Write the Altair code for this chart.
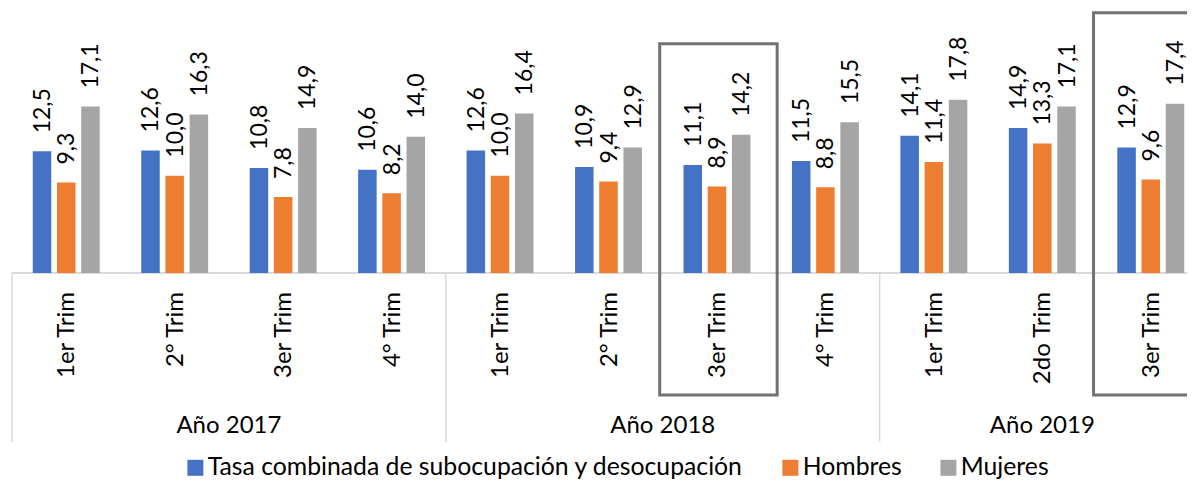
import altair as alt
import pandas as pd

# ---- data ----
years = ["Año 2017", "Año 2018", "Año 2019"]
trims_per_year = [
    ["1er Trim", "2° Trim", "3er Trim", "4° Trim"],
    ["1er Trim", "2° Trim", "3er Trim", "4° Trim"],
    ["1er Trim", "2do Trim", "3er Trim"],
]
series = ["Tasa combinada de subocupación y desocupación", "Hombres", "Mujeres"]
tasa = [12.5, 12.6, 10.8, 10.6, 12.6, 10.9, 11.1, 11.5, 14.1, 14.9, 12.9]
hombres = [9.3, 10.0, 7.8, 8.2, 10.0, 9.4, 8.9, 8.8, 11.4, 13.3, 9.6]
mujeres = [17.1, 16.3, 14.9, 14.0, 16.4, 12.9, 14.2, 15.5, 17.8, 17.1, 17.4]
highlighted = [6, 10]  # 3er Trim 2018, 3er Trim 2019
colors = ["#4472C4", "#ED7D31", "#A5A5A5"]

# ---- tables ----
keys, trim_labels, year_of = [], [], []
for y, trims in zip(years, trims_per_year):
    for t in trims:
        keys.append(f"{y} | {t}")
        trim_labels.append(t)
        year_of.append(y)

rows = []
for i, k in enumerate(keys):
    for s, vals in zip(series, [tasa, hombres, mujeres]):
        rows.append({"key": k, "series": s, "value": vals[i]})
df = pd.DataFrame(rows)
df["label"] = df["value"].map(lambda v: f"{v:.1f}".replace(".", ","))

cats = pd.DataFrame({"key": keys, "trim": trim_labels})

# year label anchors
year_even, year_odd, year_first = [], [], []
start = 0
for y, trims in zip(years, trims_per_year):
    n = len(trims)
    year_first.append({"key": keys[start]})
    mid = keys[start + n // 2]
    (year_even if n % 2 == 0 else year_odd).append({"key": mid, "year": y})
    start += n
year_even = pd.DataFrame(year_even)
year_odd = pd.DataFrame(year_odd)
year_first = pd.DataFrame(year_first)

boxes = pd.DataFrame({
    "key": [keys[i] for i in highlighted],
    "maxv": [max(tasa[i], hombres[i], mujeres[i]) for i in highlighted],
})

W, H = 1175, 253
FONT = "Lato"
x_scale = alt.Scale(domain=keys, range=[0, 1193], paddingInner=0, paddingOuter=0)
y_scale = alt.Scale(domain=[0, 26])
off_scale = alt.Scale(domain=series, paddingInner=0.235, paddingOuter=0.858)

X = alt.X("key:N", scale=x_scale, axis=None)

bars = alt.Chart(df).mark_bar().encode(
    x=X,
    xOffset=alt.XOffset("series:N", scale=off_scale),
    y=alt.Y("value:Q", scale=y_scale, axis=None),
    color=alt.Color(
        "series:N",
        scale=alt.Scale(domain=series, range=colors),
        legend=alt.Legend(
            orient="none", legendX=171, legendY=435, direction="horizontal",
            title=None, symbolType="square", symbolSize=256, symbolStrokeWidth=0,
            labelFont=FONT, labelFontSize=24.75, labelColor="#000000", labelLimit=1000,
            columnPadding=34, labelOffset=0, padding=0,
        ),
    ),
)

values = alt.Chart(df).mark_text(
    angle=270, align="left", baseline="middle", dx=18, dy=1,
    font=FONT, fontSize=23, color="#000000",
).encode(
    x=X,
    xOffset=alt.XOffset("series:N", scale=off_scale),
    y=alt.Y("value:Q", scale=y_scale, axis=None),
    text="label:N",
)

cat_labels = alt.Chart(cats).mark_text(
    angle=270, align="right", baseline="middle", dy=1,
    font=FONT, fontSize=24, color="#000000",
).encode(x=X, y=alt.value(272), text="trim:N")

year_lab_even = alt.Chart(year_even).mark_text(
    baseline="middle", align="center", font=FONT, fontSize=24, color="#000000",
).encode(x=alt.X("key:N", scale=x_scale, axis=None, bandPosition=0), y=alt.value(406), text="year:N")

year_lab_odd = alt.Chart(year_odd).mark_text(
    baseline="middle", align="center", font=FONT, fontSize=24, color="#000000",
).encode(x=alt.X("key:N", scale=x_scale, axis=None, bandPosition=0.5), y=alt.value(406), text="year:N")

separators = alt.Chart(year_first).mark_rule(color="#D9D9D9", strokeWidth=1.5).encode(
    x=alt.X("key:N", scale=x_scale, axis=None, bandPosition=0),
    y=alt.value(H), y2=alt.value(422),
)

baseline = alt.Chart(cats).mark_rule(color="#D9D9D9", strokeWidth=1.5).encode(
    x=alt.value(0), x2=alt.value(W + 30), y=alt.value(H)
)

box = alt.Chart(boxes).mark_rect(
    fillOpacity=0, stroke="#767171", strokeWidth=3, xOffset=-3, x2Offset=6, yOffset=-91,
).encode(
    x=alt.X("key:N", scale=x_scale, axis=None, bandPosition=0),
    x2=alt.X2("key:N", bandPosition=1),
    y=alt.Y("maxv:Q", scale=y_scale, axis=None),
    y2=alt.value(375),
)

chart = alt.layer(
    baseline, separators, bars, values, cat_labels, year_lab_even, year_lab_odd, box
).properties(
    width=W, height=H,
    autosize=alt.AutoSizeParams(type="none"),
    padding={"left": 4, "top": 12, "right": 0, "bottom": 208},
).configure_view(strokeWidth=0)

chart.save("out.html", embed_options={"renderer": "svg", "actions": False})
